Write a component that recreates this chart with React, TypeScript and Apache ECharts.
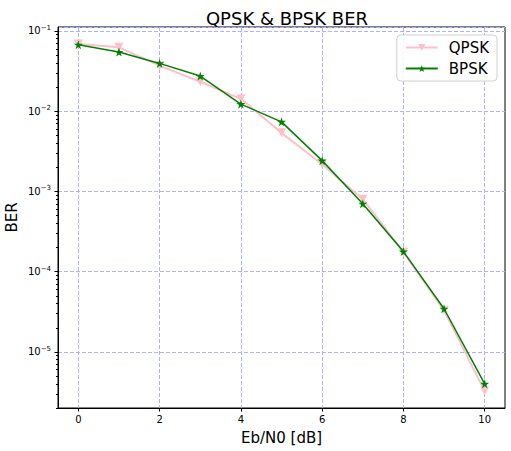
import React, { useEffect, useRef } from 'react';
import * as echarts from 'echarts';

const ebn0 = [0, 1, 2, 3, 4, 5, 6, 7, 8, 9, 10];
const qpskBer = [0.069, 0.0625, 0.0369, 0.0233, 0.01425, 0.00537, 0.00218, 0.0008, 0.000175, 3.3e-5, 3.25e-6];
const bpskBer = [0.0674, 0.0546, 0.0394, 0.0274, 0.01224, 0.00736, 0.00242, 0.000702, 0.000178, 3.45e-5, 4.0e-6];
const xTicks = [0, 2, 4, 6, 8, 10];
const yMin = 2.0e-6;
const yMax = 0.112;
const minorMantissas = [2, 3, 4, 5, 6, 7, 8, 9];
const minorDecades = [-6, -5, -4, -3, -2, -1];

const FONT = 'DejaVu Sans';
const STAR = 'path://M0,-1 L0.2245,-0.309 L0.951,-0.309 L0.363,0.118 L0.588,0.809 L0,0.382 L-0.588,0.809 L-0.363,0.118 L-0.951,-0.309 L-0.2245,-0.309 Z';

export default function App() {
  const ref = useRef<HTMLDivElement>(null);
  useEffect(() => {
    const chart = echarts.init(ref.current as HTMLDivElement, null, { renderer: 'svg' });
    const minorExps: number[] = [];
    minorDecades.forEach((d) => minorMantissas.forEach((m) => {
      const v = Math.log10(m) + d;
      if (v >= Math.log10(yMin) - 1e-9 && v <= Math.log10(yMax)) minorExps.push(v);
    }));
    const gridColor = '#b0b0ff';
    chart.setOption({
      animation: false,
      backgroundColor: '#fff',
      textStyle: { fontFamily: FONT },
      title: {
        text: 'QPSK & BPSK BER',
        left: 282,
        textAlign: 'center',
        top: 4,
        textStyle: { fontFamily: FONT, fontSize: 18, fontWeight: 'normal', color: '#000' },
      },
      grid: {
        left: 58, right: 6, top: 27, bottom: 43,
        containLabel: false, outerBoundsMode: 'none',
        show: true, borderColor: '#000', borderWidth: 1, backgroundColor: 'transparent',
      },
      legend: {
        data: ['QPSK', 'BPSK'],
        orient: 'vertical',
        right: 14,
        top: 35,
        itemWidth: 32,
        itemHeight: 9,
        itemGap: 6,
        padding: [5, 8, 5, 8],
        borderColor: '#d0d0d0',
        borderWidth: 1,
        borderRadius: 4,
        backgroundColor: 'rgba(255,255,255,0.85)',
        textStyle: { fontFamily: FONT, fontSize: 15, color: '#000', padding: [0, 0, 0, 6] },
      },
      xAxis: {
        type: 'value',
        min: -0.5,
        max: 10.5,
        name: 'Eb/N0 [dB]',
        nameLocation: 'middle',
        nameGap: 22,
        nameMoveOverlap: false,
        nameTextStyle: { fontFamily: FONT, fontSize: 15, color: '#000' },
        axisLine: { show: true, onZero: false, lineStyle: { color: '#000', width: 1 } },
        axisTick: { show: true, length: 3.5, customValues: xTicks, lineStyle: { color: '#000' } },
        axisLabel: { customValues: xTicks, fontFamily: FONT, fontSize: 10, color: '#000', margin: 6 },
        splitLine: { show: true, lineStyle: { color: gridColor, type: [4, 2], width: 1 } },
      },
      yAxis: [
        {
          type: 'log',
          logBase: 10,
          position: 'left',
          min: yMin,
          max: yMax,
          name: 'BER',
          nameLocation: 'middle',
          nameGap: 39,
          nameMoveOverlap: false,
          nameTextStyle: { fontFamily: FONT, fontSize: 15, color: '#000' },
          axisLine: { show: true, onZero: false, lineStyle: { color: '#000', width: 1 } },
          axisTick: { show: true, length: 3.5, lineStyle: { color: '#000' } },
          axisLabel: {
            showMinLabel: false,
            showMaxLabel: false,
            margin: 7,
            formatter: (v: number) => {
              const e = Math.log10(v);
              if (Math.abs(e - Math.round(e)) > 1e-6) return '';
              const r = Math.round(e);
              return '{b|10}{s|' + (r < 0 ? '\u2212' : '') + Math.abs(r) + '}';
            },
            rich: {
              b: { fontFamily: FONT, fontSize: 10, color: '#000' },
              s: { fontFamily: FONT, fontSize: 7, color: '#000', verticalAlign: 'top', padding: [0, 0, 6, 0] },
            },
          },
          splitLine: { show: true, lineStyle: { color: gridColor, type: [4, 2], width: 1 } },
        },
        {
          type: 'value',
          position: 'left',
          offset: 0,
          min: Math.log10(yMin),
          max: Math.log10(yMax),
          axisLine: { show: false, onZero: false },
          axisTick: { show: true, length: 2, customValues: minorExps, lineStyle: { color: '#000' } },
          axisLabel: { show: false },
          splitLine: { show: false },
        },
      ],
      series: [
        {
          name: 'QPSK',
          type: 'line',
          data: ebn0.map((x, i) => [x, qpskBer[i]]),
          color: '#ffc0cb',
          lineStyle: { width: 2, color: '#ffc0cb' },
          itemStyle: { color: '#ffc0cb' },
          symbol: 'triangle',
          symbolRotate: 180,
          symbolSize: 9,
          showSymbol: true,
          z: 2,
        },
        {
          name: 'BPSK',
          type: 'line',
          data: ebn0.map((x, i) => [x, bpskBer[i]]),
          color: '#008000',
          lineStyle: { width: 1.5, color: '#008000' },
          itemStyle: { color: '#008000' },
          symbol: STAR,
          symbolSize: 9,
          showSymbol: true,
          z: 3,
        },
      ],
    });
    return () => chart.dispose();
  }, []);
  return <div ref={ref} style={{ position: 'absolute', left: 0, top: 0, width: 511, height: 451 }} />;
}
